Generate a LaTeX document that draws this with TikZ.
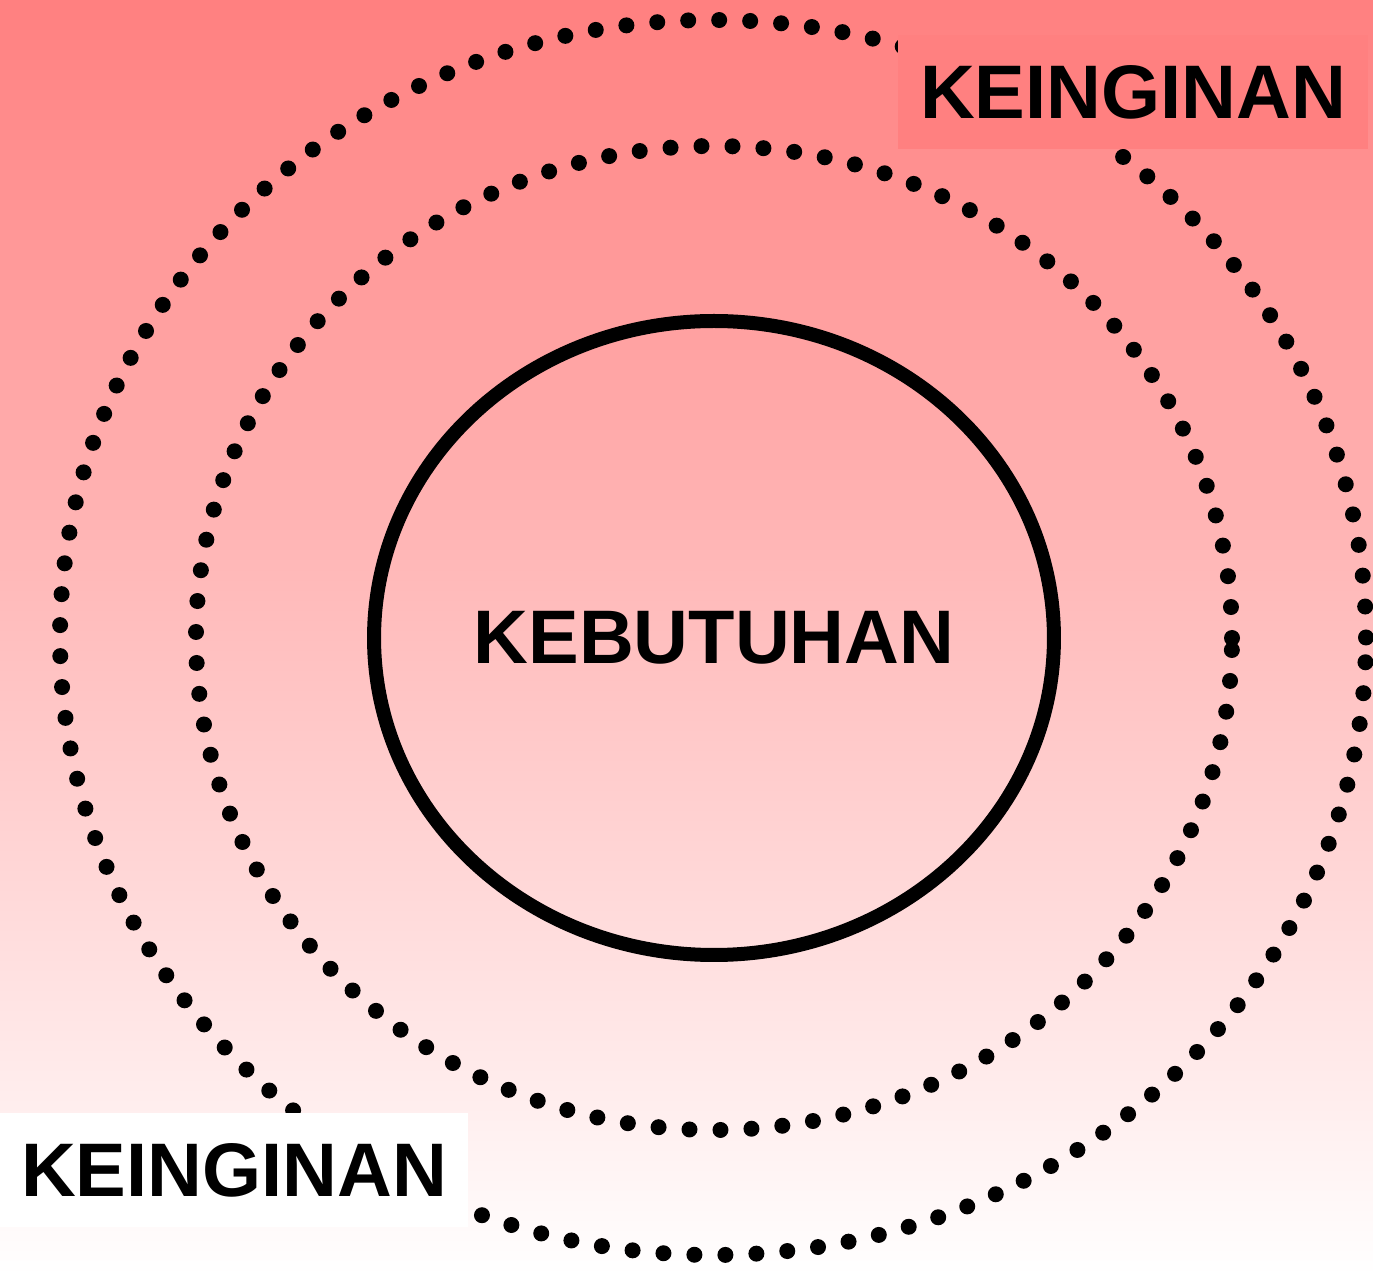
\documentclass[tikz,border=0pt]{standalone}
\usepackage{fontspec}
\setmainfont{Liberation Sans}
\usepackage{tikz}
\usetikzlibrary{shapes.geometric, positioning, calc}
\definecolor{wantred}{rgb}{1.0,0.5,0.5}

\begin{document}
\begin{tikzpicture}[
    font=\bfseries\fontsize{21.6}{26}\selectfont,
    needring/.style={
        ellipse, draw=black, line width=0.14cm, inner sep=0pt,
        minimum width=6.70cm, minimum height=6.34cm
    },
    dotring/.style={
        ellipse, draw=black, line width=0.16cm, line cap=round,
        dash pattern=on 0pt off 0.31cm, inner sep=0pt
    },
    wantlabel/.style={
        inner sep=0pt, minimum height=1.14cm, align=center
    }
]

% ---- Fixed frame, same proportions as the page ----
\useasboundingbox (0,0) rectangle (13.73,12.75);

% ---- Background: red at the top fading to white ----
\shade[top color=wantred, bottom color=white] (0,0) rectangle (13.73,12.75);

% ---- Centre of the rings ----
\coordinate (C) at (7.14,6.37);

% ---- Dotted rings (wants) ----
\node[dotring, minimum width=13.06cm, minimum height=12.35cm] (outer) at (7.13,6.375) {};
\node[dotring, minimum width=10.36cm, minimum height=9.84cm] (middle) at (C) {};

% ---- Solid ring (needs) ----
\node[needring] (kebutuhan) at (C) {KEBUTUHAN};

% ---- Labels on the outer ring ----
\node[wantlabel, fill=wantred, minimum width=4.70cm] (want1) at (11.33,11.83) {KEINGINAN};
\node[wantlabel, fill=white, minimum width=4.68cm] (want2) at (2.34,1.045) {KEINGINAN};

\end{tikzpicture}
\end{document}
